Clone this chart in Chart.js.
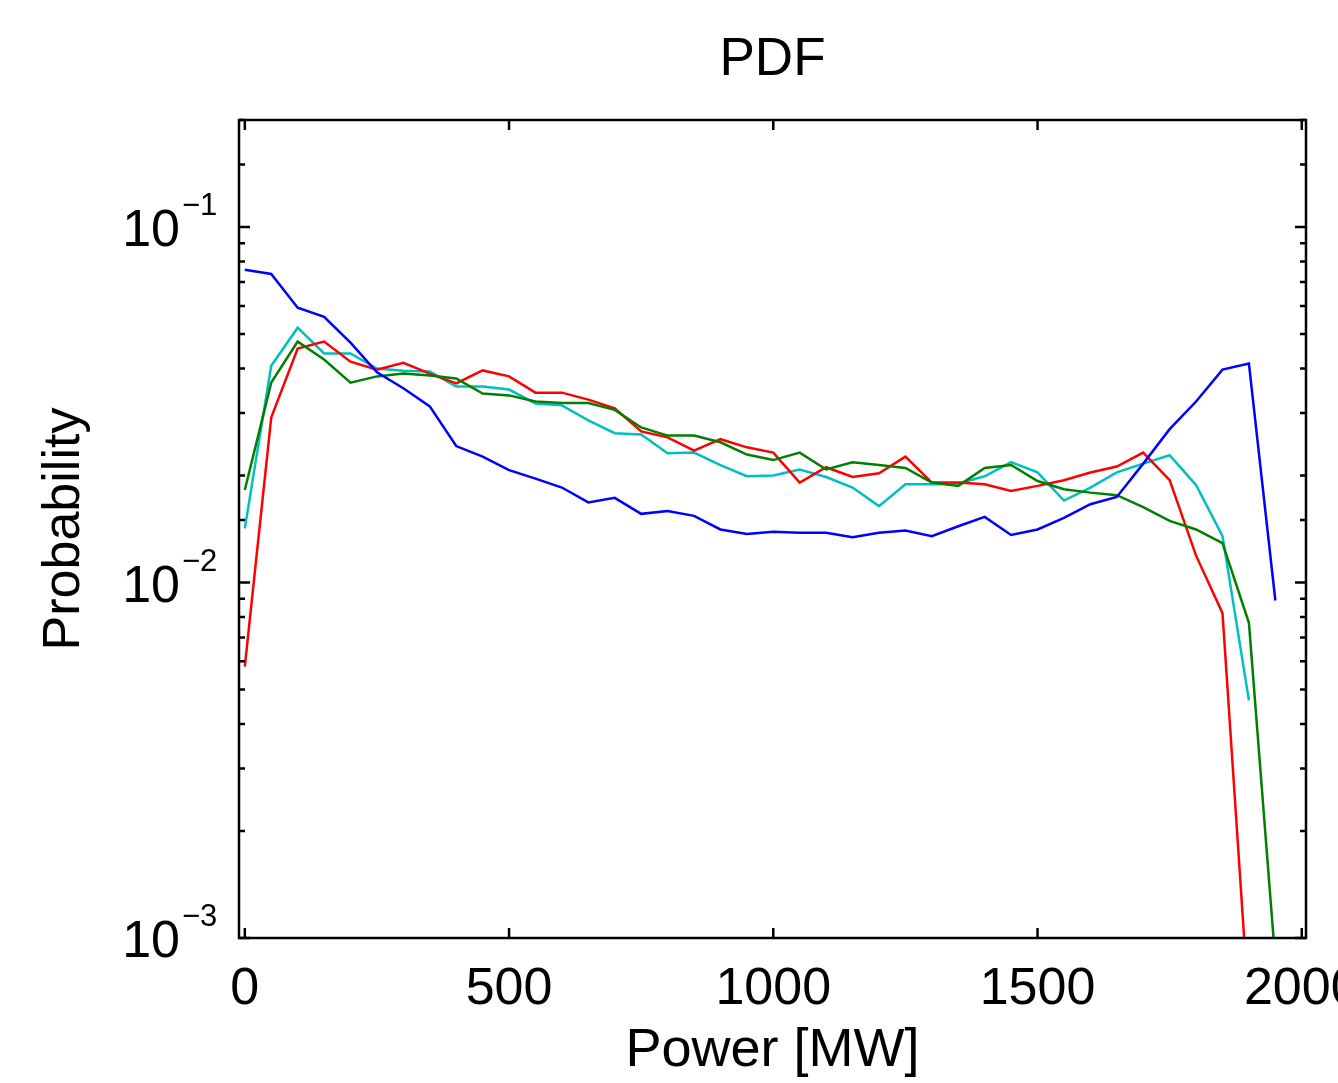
<!DOCTYPE html>
<html>
<head>
<meta charset="utf-8">
<title>PDF</title>
<script src="https://cdn.jsdelivr.net/npm/chart.js@4"></script>
<style>
  html, body { margin: 0; padding: 0; background: #fff; }
  #wrap { width: 1338px; height: 1083px; }
</style>
</head>
<body>
<div id="wrap"><canvas id="chart" width="1338" height="1083"></canvas></div>
<script>
// power bins [MW]
const power = [0, 50, 100, 150, 200, 250, 300, 350, 400, 450, 500, 550, 600, 650, 700, 750,
  800, 850, 900, 950, 1000, 1050, 1100, 1150, 1200, 1250, 1300, 1350, 1400, 1450, 1500,
  1550, 1600, 1650, 1700, 1750, 1800, 1850, 1900, 1950];

// probability per bin
const bluePdf = [0.0758, 0.0738, 0.0593, 0.0559, 0.0473, 0.0390, 0.0352, 0.0313, 0.0242, 0.0226,
  0.0207, 0.0196, 0.0185, 0.0168, 0.0173, 0.0156, 0.0159, 0.0154, 0.0141, 0.0137,
  0.0139, 0.0138, 0.0138, 0.0134, 0.0138, 0.0140, 0.0135, 0.0144, 0.0153, 0.0136,
  0.0141, 0.0152, 0.0166, 0.0174, 0.0216, 0.0270, 0.0323, 0.0397, 0.0413, 0.0089];
const greenPdf = [0.0182, 0.0365, 0.0476, 0.0424, 0.0365, 0.0380, 0.0387, 0.0382, 0.0375, 0.0340,
  0.0336, 0.0323, 0.0320, 0.0320, 0.0306, 0.0273, 0.0259, 0.0259, 0.0248, 0.0229,
  0.0221, 0.0232, 0.0208, 0.0218, 0.0214, 0.0210, 0.0191, 0.0187, 0.0210, 0.0214,
  0.0193, 0.0183, 0.0179, 0.0176, 0.0163, 0.0149, 0.0141, 0.0129, 0.0077, 0.00086];
const redPdf = [0.0058, 0.0291, 0.0455, 0.0476, 0.0418, 0.0397, 0.0415, 0.0387, 0.0363, 0.0395,
  0.0380, 0.0342, 0.0342, 0.0327, 0.0309, 0.0266, 0.0256, 0.0235, 0.0253, 0.0240,
  0.0232, 0.0191, 0.0211, 0.0198, 0.0203, 0.0226, 0.0191, 0.0191, 0.0189, 0.0181,
  0.0187, 0.0194, 0.0204, 0.0212, 0.0232, 0.0194, 0.0119, 0.0082, 0.00063, null];
const cyanPdf = [0.0142, 0.0407, 0.0521, 0.0441, 0.0441, 0.0400, 0.0394, 0.0392, 0.0356, 0.0356,
  0.0349, 0.0319, 0.0315, 0.0286, 0.0263, 0.0261, 0.0231, 0.0232, 0.0214, 0.0199,
  0.0200, 0.0208, 0.0198, 0.0185, 0.0164, 0.0189, 0.0189, 0.0190, 0.0199, 0.0218,
  0.0204, 0.0170, 0.0185, 0.0204, 0.0216, 0.0228, 0.0188, 0.0135, 0.00466, null];

const xTicks = [0, 500, 1000, 1500, 2000];
const yDecades = [0.001, 0.01, 0.1];
const yDecadeExp = ["\u22123", "\u22122", "\u22121"];
const titleText = "PDF";

const FONT = "'Liberation Sans', Arial, Helvetica, sans-serif";

function toPoints(vals) {
  return power.map((p, i) => ({ x: p, y: vals[i] }));
}

function lineSet(label, vals, color) {
  return {
    label: label,
    data: toPoints(vals),
    borderColor: color,
    backgroundColor: color,
    borderWidth: 2.5,
    pointRadius: 0,
    tension: 0,
    fill: false,
  };
}

// frame, inward ticks, 10^n labels and the title over the axes box
const framePlugin = {
  id: "frame",
  afterDraw(chart) {
    const ctx = chart.ctx;
    const a = chart.chartArea;
    const xs = chart.scales.x;
    const ys = chart.scales.y;
    ctx.save();
    ctx.strokeStyle = "#000";
    ctx.fillStyle = "#000";
    ctx.lineWidth = 2.5;
    ctx.strokeRect(a.left, a.top, a.right - a.left, a.bottom - a.top);

    ctx.font = "53px " + FONT;
    ctx.textAlign = "center";
    ctx.textBaseline = "alphabetic";
    ctx.fillText(titleText, (a.left + a.right) / 2, 75);

    // x ticks + labels
    ctx.font = "52px " + FONT;
    xs.ticks.forEach((t) => {
      const px = xs.getPixelForValue(t.value);
      ctx.beginPath();
      ctx.moveTo(px, a.bottom);
      ctx.lineTo(px, a.bottom - 10);
      ctx.moveTo(px, a.top);
      ctx.lineTo(px, a.top + 10);
      ctx.stroke();
      ctx.fillText(String(t.value), px, a.bottom + 66);
    });

    // y ticks (major on decades, minor between)
    ys.ticks.forEach((t) => {
      const py = ys.getPixelForValue(t.value);
      const m = t.value / Math.pow(10, Math.floor(Math.log10(t.value) + 1e-9));
      const major = Math.abs(m - 1) < 1e-6;
      const len = major ? 11 : 6;
      ctx.beginPath();
      ctx.moveTo(a.left, py);
      ctx.lineTo(a.left + len, py);
      ctx.moveTo(a.right, py);
      ctx.lineTo(a.right - len, py);
      ctx.stroke();
    });

    yDecades.forEach((v, i) => {
      const py = ys.getPixelForValue(v);
      ctx.font = "52px " + FONT;
      ctx.textAlign = "right";
      ctx.fillText("10", a.left - 59, py + 19);
      ctx.font = "31px " + FONT;
      ctx.textAlign = "left";
      ctx.fillText(yDecadeExp[i], a.left - 57, py - 12);
    });
    ctx.restore();
  },
};

const ctx = document.getElementById("chart").getContext("2d");
new Chart(ctx, {
  type: "line",
  data: {
    datasets: [
      lineSet("Series 1", bluePdf, "#0000ff"),
      lineSet("Series 2", greenPdf, "#008000"),
      lineSet("Series 3", redPdf, "#ff0000"),
      lineSet("Series 4", cyanPdf, "#00bfbf"),
    ],
  },
  options: {
    responsive: false,
    animation: false,
    devicePixelRatio: 1,
    layout: {
      autoPadding: false,
      padding: { left: 0, right: 32, top: 120, bottom: 0 },
    },
    plugins: {
      legend: { display: false },
      tooltip: { enabled: false },
      title: { display: false },
    },
    scales: {
      x: {
        type: "linear",
        min: -11,
        max: 2008,
        grid: { display: false },
        border: { display: false },
        ticks: { display: false },
        afterBuildTicks(scale) {
          scale.ticks = xTicks.map((v) => ({ value: v }));
        },
        title: {
          display: true,
          text: "Power [MW]",
          color: "#000",
          font: { family: FONT, size: 54 },
          padding: { top: 0, bottom: -1 },
        },
        afterFit(scale) {
          scale.height = 145;
        },
      },
      y: {
        type: "logarithmic",
        min: 0.001,
        max: 0.2,
        grid: { display: false },
        border: { display: false },
        ticks: { display: false },
        title: {
          display: true,
          text: "Probability",
          color: "#000",
          font: { family: FONT, size: 52 },
          padding: { top: 33, bottom: 0 },
        },
        afterFit(scale) {
          scale.width = 239;
        },
      },
    },
  },
  plugins: [framePlugin],
});
</script>
</body>
</html>
